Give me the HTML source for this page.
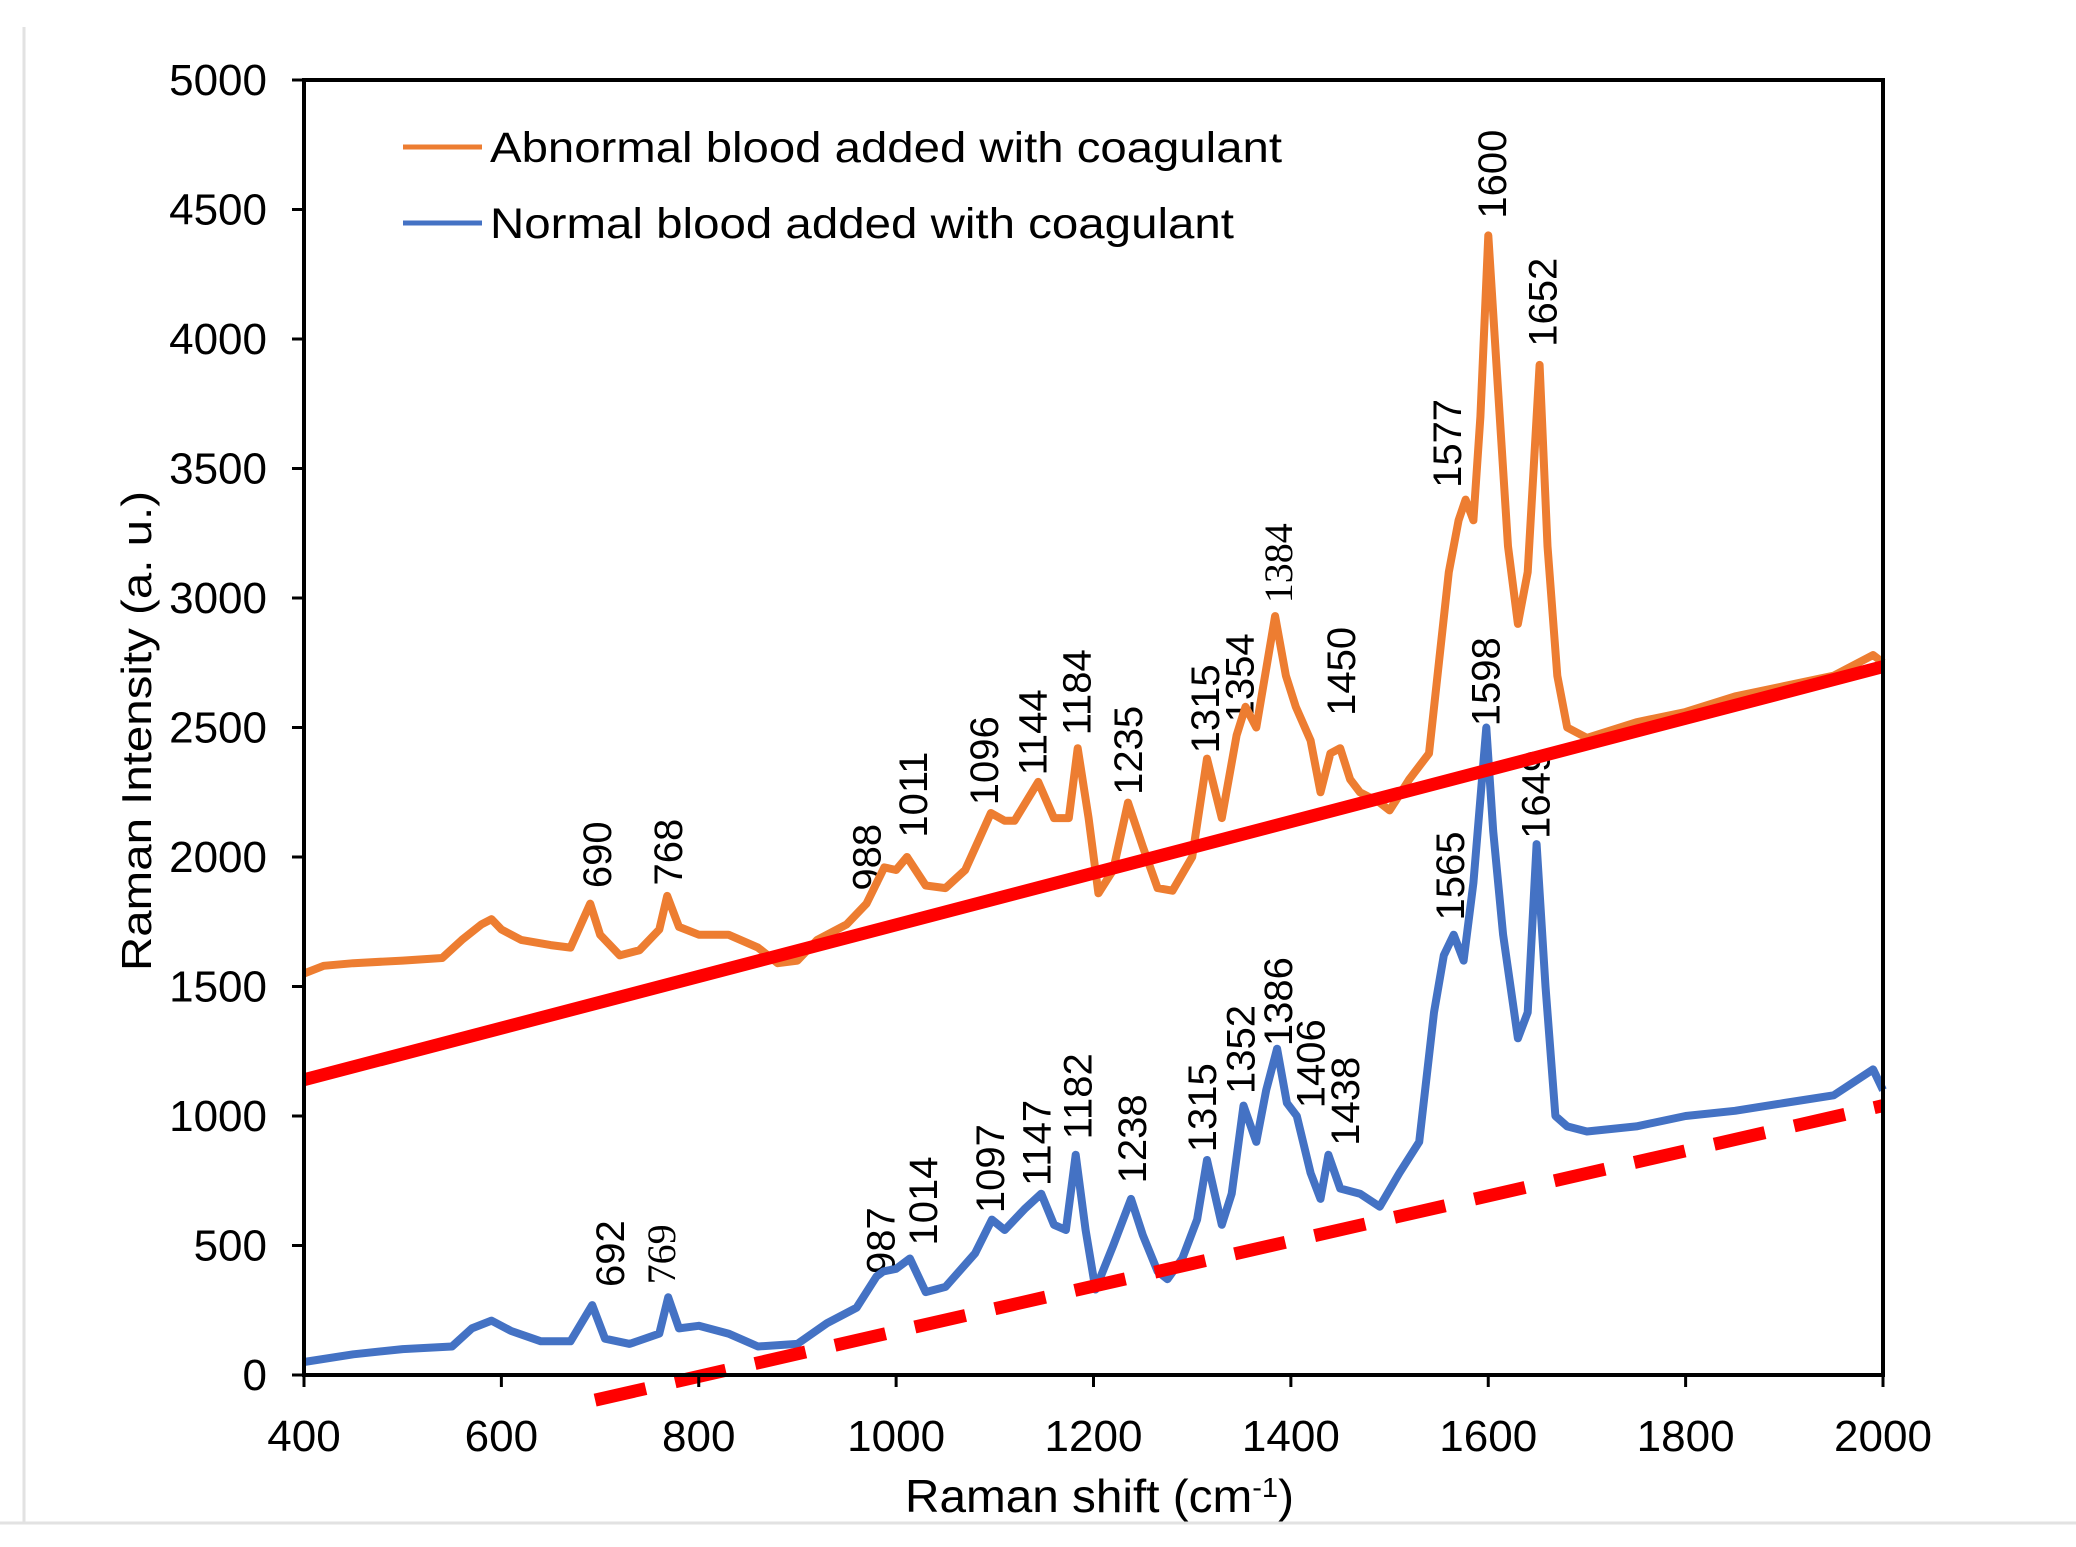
<!DOCTYPE html>
<html><head><meta charset="utf-8">
<style>
html,body{margin:0;padding:0;background:#fff;}
svg{display:block;font-family:"Liberation Sans",sans-serif;}
</style></head>
<body>
<svg id="chart" width="2076" height="1547" viewBox="0 0 2076 1547" xmlns="http://www.w3.org/2000/svg">
<rect x="0" y="0" width="2076" height="1547" fill="#fff"/>
<line x1="24" y1="27" x2="24" y2="1523" stroke="#e2e2e2" stroke-width="3"/>
<line x1="0" y1="1523" x2="2076" y2="1523" stroke="#e2e2e2" stroke-width="3"/>
<g id="labels"></g>
<g id="series"></g>
<g id="axes"></g>
</svg>
<script>
const abnX=[400,420,450,500,540,560,580,590,600,620,650,670,690,700,720,740,760,768,780,800,830,860,880,900,920,950,970,988,1000,1011,1030,1050,1070,1096,1110,1120,1144,1160,1175,1184,1195,1205,1220,1235,1250,1265,1280,1300,1315,1330,1345,1354,1365,1384,1395,1405,1420,1430,1440,1450,1460,1470,1490,1500,1520,1540,1550,1560,1570,1577,1585,1592,1600,1610,1620,1630,1640,1652,1660,1670,1680,1700,1750,1800,1850,1900,1950,1990,2000];
const abnY=[1550,1580,1590,1600,1610,1680,1740,1760,1720,1680,1660,1650,1820,1700,1620,1640,1720,1850,1730,1700,1700,1650,1590,1600,1680,1740,1820,1960,1950,2000,1890,1880,1950,2170,2140,2140,2290,2150,2150,2420,2150,1860,1950,2210,2040,1880,1870,2000,2380,2150,2470,2580,2500,2930,2700,2580,2450,2250,2400,2420,2300,2250,2210,2180,2300,2400,2750,3100,3300,3380,3300,3700,4400,3800,3200,2900,3100,3900,3200,2700,2500,2460,2520,2560,2620,2660,2700,2780,2750];
const norX=[400,450,500,550,570,590,610,640,670,692,705,730,760,769,780,800,830,860,900,930,960,980,987,1000,1014,1030,1050,1080,1097,1110,1130,1147,1160,1172,1182,1192,1202,1220,1238,1250,1265,1275,1290,1305,1315,1330,1340,1352,1365,1375,1386,1396,1406,1420,1430,1438,1450,1470,1490,1510,1530,1545,1555,1565,1575,1585,1598,1605,1615,1630,1640,1649,1658,1668,1680,1700,1750,1800,1850,1900,1950,1990,2000];
const norY=[50,80,100,110,180,210,170,130,130,270,140,120,160,300,180,190,160,110,120,200,260,380,400,410,450,320,340,470,600,560,640,700,580,560,850,560,330,500,680,540,400,370,450,600,830,580,700,1040,900,1100,1260,1050,1000,780,680,850,720,700,650,780,900,1400,1620,1700,1600,1900,2500,2100,1700,1300,1400,2050,1500,1000,960,940,960,1000,1020,1050,1080,1180,1100];
const fitSolidX=[400,2000], fitSolidY=[1140,2735];
const fitDashX=[695,2000], fitDashY=[-97,1040];
const xTicks=[400,600,800,1000,1200,1400,1600,1800,2000];
const yTicks=[0,500,1000,1500,2000,2500,3000,3500,4000,4500,5000];
const abnLabels=["690","768","988","1011","1096","1144","1184","1235","1315","1354","1384","1450","1577","1600","1652"];
const abnLabX=[697,769,970,1017,1089,1138,1183,1235,1313,1348,1387,1451,1558,1604,1655];
const abnLabY=[1880,1890,1870,2075,2200,2315,2470,2240,2400,2520,2980,2545,3425,4465,3970];
const norLabels=["692","769","987","1014","1097","1147","1182","1238","1315","1352","1386","1406","1438","1565","1598","1649"];
const norLabX=[710,762,984,1027,1095,1142,1184,1239,1310,1349,1387,1420,1455,1561,1597,1648];
const norLabY=[340,350,390,500,625,730,910,740,860,1085,1270,1030,885,1755,2505,2070];

const L=304,R=1883,T=80,B=1375;
const sx=v=>L+(v-400)/1600*(R-L);
const sy=v=>B-v/5000*(B-T);
const NS="http://www.w3.org/2000/svg";
function mk(tag,parent,attrs){const e=document.createElementNS(NS,tag);for(const k in attrs)e.setAttribute(k,attrs[k]);parent.appendChild(e);return e;}
const labelsG=document.getElementById('labels'),seriesG=document.getElementById('series'),axesG=document.getElementById('axes');

function addLabels(txts,xs,ys,name){
  txts.forEach((t,i)=>{
    const x=sx(xs[i])+14,y=sy(ys[i]);
    const serif=(name==='abnormal'&&t==='1384')||(name==='normal'&&t==='769');
    const e=mk('text',labelsG,{x:x,y:y,'font-size':40,fill:'#000',transform:`rotate(-90 ${x} ${y})`});
    if(serif)e.setAttribute('font-family','"Liberation Serif",serif');
    e.textContent=t;
    
    
  });
}
addLabels(abnLabels,abnLabX,abnLabY,'abnormal');
addLabels(norLabels,norLabX,norLabY,'normal');

function path(xs,ys){return xs.map((x,i)=>(i?'L':'M')+sx(x).toFixed(1)+','+sy(ys[i]).toFixed(1)).join(' ');}
const pa=mk('path',seriesG,{d:path(abnX,abnY),fill:'none',stroke:'#ED7D31','stroke-width':8,'stroke-linejoin':'round'});


const pn=mk('path',seriesG,{d:path(norX,norY),fill:'none',stroke:'#4472C4','stroke-width':8,'stroke-linejoin':'round'});


const fs=mk('line',seriesG,{x1:sx(fitSolidX[0]),y1:sy(fitSolidY[0]),x2:sx(fitSolidX[1]),y2:sy(fitSolidY[1]),stroke:'#FF0000','stroke-width':13});


const fd=mk('line',seriesG,{x1:sx(fitDashX[0]),y1:sy(fitDashY[0]),x2:sx(fitDashX[1]),y2:sy(fitDashY[1]),stroke:'#FF0000','stroke-width':13,'stroke-dasharray':'52 30'});



const box=mk('rect',axesG,{x:L,y:T,width:R-L,height:B-T,fill:'none',stroke:'#000','stroke-width':4});


xTicks.forEach(v=>{
  const x=sx(v);
  const tk=mk('line',axesG,{x1:x,y1:B,x2:x,y2:B+12,stroke:'#000','stroke-width':3});
  
  
  const t=mk('text',axesG,{x:x,y:1451,'font-size':44,'text-anchor':'middle',fill:'#000'});
  t.textContent=v;
  
  
});
yTicks.forEach(v=>{
  const y=sy(v);
  const tk=mk('line',axesG,{x1:L-12,y1:y,x2:L,y2:y,stroke:'#000','stroke-width':3});
  
  
  const t=mk('text',axesG,{x:267,y:y+15,'font-size':44,'text-anchor':'end',fill:'#000'});
  t.textContent=v;
  
  
});
</script>
<svg style="position:absolute;left:0;top:0" width="2076" height="1547">
<text x="151" y="731" font-family="Liberation Sans, sans-serif" font-size="42" text-anchor="middle" transform="rotate(-90 151 731)" textLength="480" lengthAdjust="spacingAndGlyphs">Raman Intensity (a. u.)</text>
<text x="905" y="1512" font-family="Liberation Sans, sans-serif" font-size="46" textLength="389" lengthAdjust="spacingAndGlyphs">Raman shift (cm<tspan baseline-shift="super" font-size="28">-1</tspan>)</text>
<g>
<line x1="403" y1="147" x2="482" y2="147" stroke="#ED7D31" stroke-width="5"/>
<text x="490" y="162" font-family="Liberation Sans, sans-serif" font-size="43" textLength="792" lengthAdjust="spacingAndGlyphs">Abnormal blood added with coagulant</text>
<line x1="403" y1="223" x2="482" y2="223" stroke="#4472C4" stroke-width="5"/>
<text x="490" y="238" font-family="Liberation Sans, sans-serif" font-size="43" textLength="744" lengthAdjust="spacingAndGlyphs">Normal blood added with coagulant</text>
</g>
</svg>
</body></html>
